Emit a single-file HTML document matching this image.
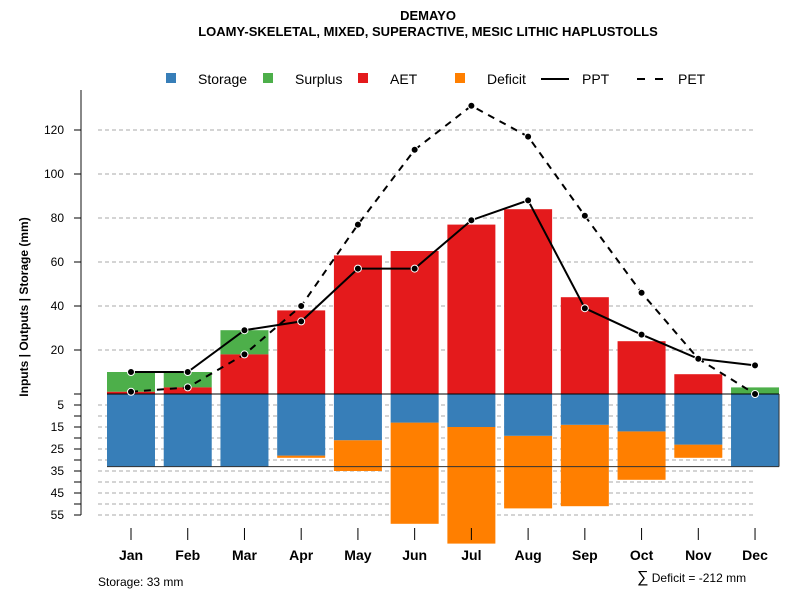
<!DOCTYPE html>
<html><head><meta charset="utf-8"><style>
body{margin:0;background:#fff}
svg{display:block;font-family:"Liberation Sans",Arial,sans-serif}
</style></head><body>
<svg id="c" width="800" height="600" xmlns="http://www.w3.org/2000/svg">
<text x="428" y="20" text-anchor="middle" font-weight="bold" font-size="13">DEMAYO</text>
<text x="428" y="36" text-anchor="middle" font-weight="bold" font-size="13">LOAMY-SKELETAL, MIXED, SUPERACTIVE, MESIC LITHIC HAPLUSTOLLS</text>
<text transform="translate(28,307) rotate(-90)" text-anchor="middle" font-weight="bold" font-size="12">Inputs | Outputs | Storage    (mm)</text>
<text x="98" y="586" font-size="12">Storage: 33 mm</text>
<text x="637" y="582" font-size="12"><tspan font-size="16">∑</tspan> Deficit = -212 mm</text>
<g font-size="14">
<rect x="166" y="73" width="10" height="10" fill="#377eb8"/>
<text x="198" y="84">Storage</text>
<rect x="263" y="73" width="10" height="10" fill="#4daf4a"/>
<text x="295" y="84">Surplus</text>
<rect x="358" y="73" width="10" height="10" fill="#e41a1c"/>
<text x="390" y="84">AET</text>
<rect x="455" y="73" width="10" height="10" fill="#ff7f00"/>
<text x="487" y="84">Deficit</text>
<line x1="541" y1="79" x2="569" y2="79" stroke="#000" stroke-width="2"/>
<text x="582" y="84">PPT</text>
<line x1="637" y1="79" x2="663" y2="79" stroke="#000" stroke-width="2" stroke-dasharray="8,10"/>
<text x="678" y="84">PET</text>
</g>
</svg>
<script>
const months=["Jan","Feb","Mar","Apr","May","Jun","Jul","Aug","Sep","Oct","Nov","Dec"];
const ppt=[10,10,29,33,57,57,79,88,39,27,16,13];
const pet=[1,3,18,40,77,111,131,117,81,46,16,0];
const aet=[1,3,18,38,63,65,77,84,44,24,9,0];
const surplus=[9,7,11,0,0,0,0,0,0,0,0,3];
const storage=[33,33,33,28,21,13,15,19,14,17,23,33];
const deficit=[0,0,0,1,14,46,53,33,37,22,6,0];
const upTicks=[20,40,60,80,100,120];
const downTicks=[5,15,25,35,45,55];
const storageCap=33;

const svg=document.getElementById('c');
const NS='http://www.w3.org/2000/svg';
const y0=394,k=2.2;
function yUp(v){return y0-v*k;}
function yDn(v){return y0+v*k;}
function xM(i){return 131+i*56.73;}
const bw=48;
function mk(t,a){const e=document.createElementNS(NS,t);for(const n in a)e.setAttribute(n,a[n]);svg.appendChild(e);return e;}

for(const t of upTicks){const e=mk('line',{x1:98,x2:756,y1:yUp(t),y2:yUp(t),stroke:'#aaa','stroke-dasharray':'4,3'});

}
for(let v=5;v<=55;v+=5){const e=mk('line',{x1:98,x2:756,y1:yDn(v),y2:yDn(v),stroke:'#aaa','stroke-dasharray':'4,3'});

}
let ax=mk('line',{x1:81,x2:81,y1:90,y2:yDn(55),stroke:'#888','stroke-width':2});


for(const t of upTicks){mk('line',{x1:74,x2:81,y1:yUp(t),y2:yUp(t),stroke:'#000'});
const e=mk('text',{x:64,y:yUp(t)+4,'text-anchor':'end','font-size':12});e.textContent=t;

}
for(let v=0;v<=55;v+=5){mk('line',{x1:74,x2:81,y1:yDn(v),y2:yDn(v),stroke:'#000'});}
for(const t of downTicks){const e=mk('text',{x:64,y:yDn(t)+4,'text-anchor':'end','font-size':12});e.textContent=t;

}
months.forEach((m,i)=>{
 const x=xM(i)-bw/2;
 if(surplus[i]>0){const e=mk('rect',{x:x,y:yUp(aet[i]+surplus[i]),width:bw,height:surplus[i]*k,fill:'#4daf4a'});
 
 }
 if(aet[i]>0){const e=mk('rect',{x:x,y:yUp(aet[i]),width:bw,height:aet[i]*k,fill:'#e41a1c'});
 
 }
 if(deficit[i]>0){const e=mk('rect',{x:x,y:yDn(storage[i]),width:bw,height:deficit[i]*k,fill:'#ff7f00'});
 
 }
 const s=mk('rect',{x:x,y:y0,width:bw,height:storage[i]*k,fill:'#377eb8'});
 
 
 mk('line',{x1:xM(i),x2:xM(i),y1:528,y2:540,stroke:'#000'});
 const t=mk('text',{x:xM(i),y:560,'text-anchor':'middle','font-weight':'bold','font-size':14});t.textContent=m;
 
 
});
let z=mk('line',{x1:xM(0)-bw/2,x2:xM(11)+bw/2,y1:y0,y2:y0,stroke:'#000'});


let sl=mk('line',{x1:xM(0)-bw/2,x2:xM(11)+bw/2,y1:yDn(storageCap),y2:yDn(storageCap),stroke:'#333'});


let sr=mk('line',{x1:xM(11)+bw/2,x2:xM(11)+bw/2,y1:y0,y2:yDn(storageCap),stroke:'#333'});


function series(arr,name,dash){
 const p=mk('polyline',{points:arr.map((v,i)=>xM(i)+','+yUp(v)).join(' '),fill:'none',stroke:'#000','stroke-width':2,'stroke-dasharray':dash});
 
 
 arr.forEach((v,i)=>{const c=mk('circle',{cx:xM(i),cy:yUp(v),r:3.5,fill:'#000',stroke:'#fff','stroke-width':1});
 
 });
}
series(pet,'pet','7,6');
series(ppt,'ppt','none');
</script>
</body></html>
